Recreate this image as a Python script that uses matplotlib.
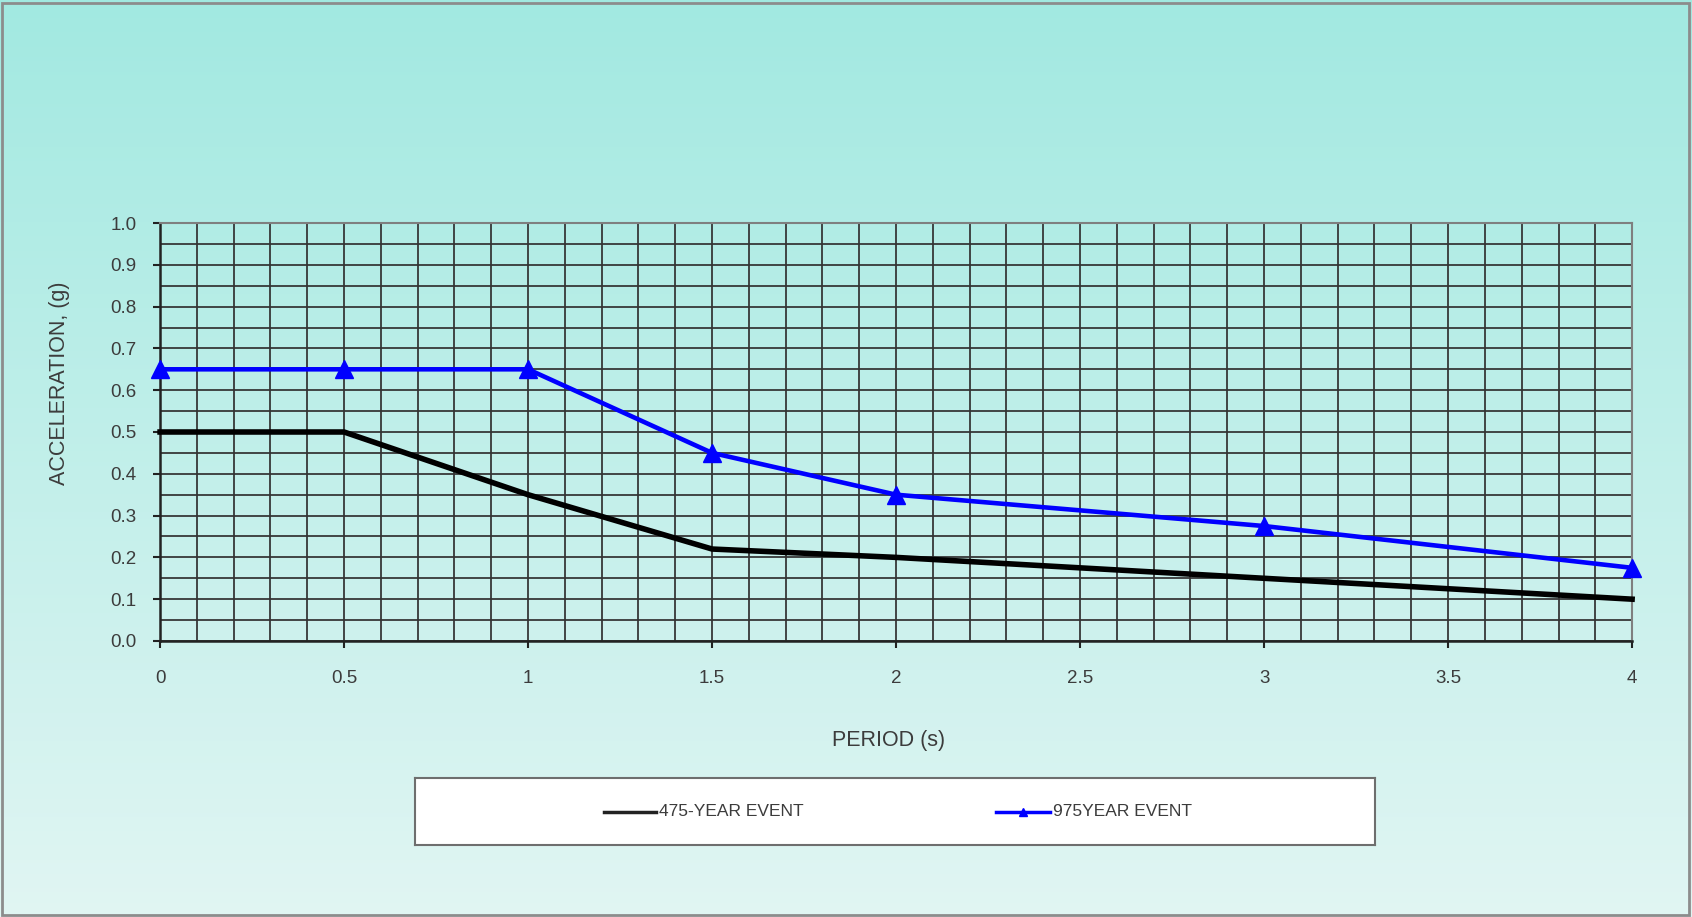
import matplotlib.pyplot as plt
import numpy as np
from matplotlib.patches import Rectangle
from matplotlib.ticker import MultipleLocator

plt.rcParams['font.family'] = ['Liberation Sans', 'DejaVu Sans']

# design response spectra
period_475 = [0, 0.5, 1, 1.5, 2, 3, 4]
accel_475 = [0.5, 0.5, 0.35, 0.22, 0.2, 0.15, 0.1]
period_975 = [0, 0.5, 1, 1.5, 2, 3, 4]
accel_975 = [0.65, 0.65, 0.65, 0.45, 0.35, 0.275, 0.175]

x_ticks = [0, 0.5, 1, 1.5, 2, 2.5, 3, 3.5, 4]
x_tick_labels = ['0', '0.5', '1', '1.5', '2', '2.5', '3', '3.5', '4']
y_ticks = np.round(np.arange(0, 1.01, 0.1), 1)

label_475 = '475-YEAR EVENT'
label_975 = '975YEAR EVENT'

text_color = '#3c3c3c'
grid_color = '#333333'

fig = plt.figure(figsize=(16.92, 9.17), dpi=100)

# vertical gradient background for the whole chart area
bg = fig.add_axes([0, 0, 1, 1], zorder=-10)
top = np.array([0.635, 0.914, 0.882])
bottom = np.array([0.882, 0.962, 0.953])
t = np.linspace(0, 1, 256)[:, None, None]
grad = top * (1 - t) + bottom * t
bg.imshow(np.repeat(grad, 2, axis=1), aspect='auto', extent=[0, 1, 0, 1])
bg.set_axis_off()
fig.patches.append(Rectangle((0.001, 0.002), 0.997, 0.995, transform=fig.transFigure,
                             fill=False, edgecolor='#8c8c8c', linewidth=2))

ax = fig.add_axes([0.0946, 0.301, 0.870, 0.4558])
ax.set_facecolor('none')

ax.plot(period_475, accel_475, color='black', linewidth=4, clip_on=False, zorder=3)
ax.plot(period_975, accel_975, color='#0000ff', linewidth=3.3, marker='^',
        markersize=13, clip_on=False, zorder=4)

ax.set_xlim(0, 4)
ax.set_ylim(0, 1.0)
ax.set_xticks(x_ticks)
ax.set_xticklabels(x_tick_labels)
ax.set_yticks(y_ticks)
ax.set_yticklabels([f'{v:.1f}' for v in y_ticks])
ax.xaxis.set_minor_locator(MultipleLocator(0.1))
ax.yaxis.set_minor_locator(MultipleLocator(0.05))

ax.grid(which='both', color=grid_color, linewidth=1.4, alpha=0.9)
ax.set_axisbelow(True)

ax.tick_params(which='major', direction='out', length=5, width=1.5, color='#222222',
               labelsize=13.5, labelcolor=text_color)
ax.tick_params(axis='x', which='major', pad=16)
ax.tick_params(axis='y', which='major', pad=12)
ax.tick_params(which='minor', length=0)

for side in ['left', 'bottom']:
    ax.spines[side].set_color('#222222')
    ax.spines[side].set_linewidth(1.8)
for side in ['top', 'right']:
    ax.spines[side].set_color('#7f7f7f')
    ax.spines[side].set_linewidth(1.5)

fig.text(0.525, 0.192, 'PERIOD (s)', ha='center', va='center', fontsize=15.5, color=text_color)
fig.text(0.0349, 0.5823, 'ACCELERATION, (g)', ha='center', va='center', rotation=90,
         fontsize=15.5, color=text_color)

# legend panel
lax = fig.add_axes([0.2453, 0.0785, 0.5674, 0.073])
lax.set_facecolor('white')
lax.set_xlim(0, 1)
lax.set_ylim(0, 1)
lax.set_xticks([])
lax.set_yticks([])
for s in lax.spines.values():
    s.set_color('#6e6e6e')
    s.set_linewidth(1.5)
lax.plot([0.197, 0.251], [0.5, 0.5], color='#222222', linewidth=2.5)
lax.text(0.254, 0.5, label_475, va='center', ha='left', fontsize=12.5, color=text_color)
lax.plot([0.605, 0.633, 0.661], [0.5, 0.5, 0.5], color='#0000ff', linewidth=2.5,
         marker='^', markersize=6, markevery=[1])
lax.text(0.665, 0.5, label_975, va='center', ha='left', fontsize=12.5, color=text_color)

fig.savefig('out.png', dpi=100)
